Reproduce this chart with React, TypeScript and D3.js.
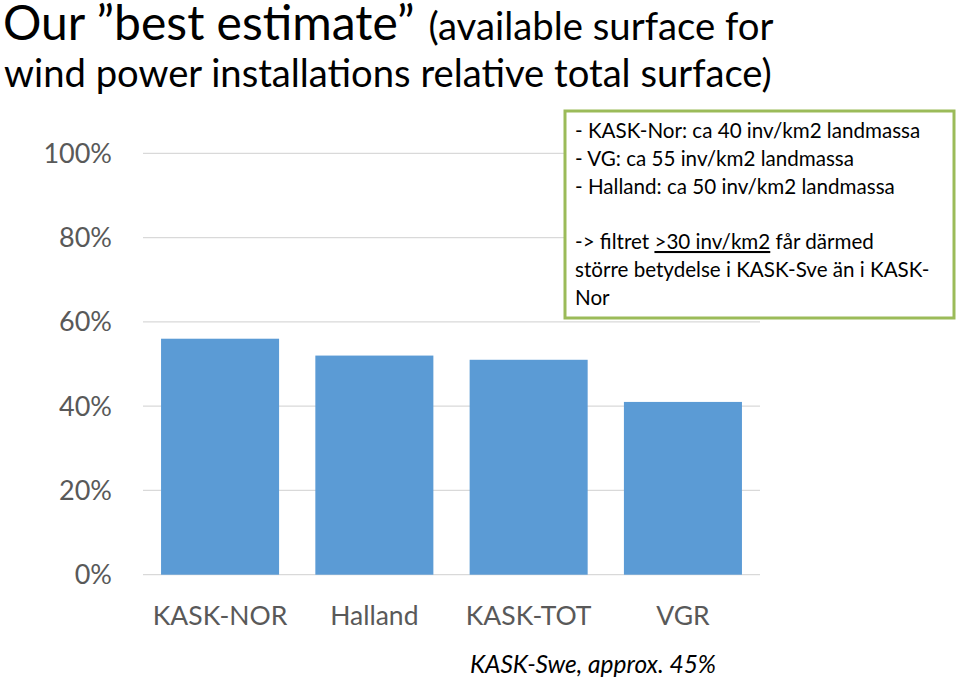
import React from "react";
import * as d3 from "d3";

const categories = ["KASK-NOR", "Halland", "KASK-TOT", "VGR"];
const values = [0.56, 0.52, 0.51, 0.41];
const yTicks = [0, 0.2, 0.4, 0.6, 0.8, 1.0];
const boxLines = [
  "- KASK-Nor: ca 40 inv/km2 landmassa",
  "- VG: ca 55 inv/km2 landmassa",
  "- Halland: ca 50 inv/km2 landmassa",
];
const footnote = "KASK-Swe, approx. 45%";

const W = 959;
const H = 681;
const FONT = "Lato, 'Open Sans', sans-serif";

export default function App() {
  const x = d3.scaleBand<string>().domain(categories).range([143, 760]).paddingInner(0.235).paddingOuter(0.117);
  const y = d3.scaleLinear().domain([0, 1]).range([574.7, 153.3]);
  const fmt = d3.format(".0%");
  return (
    <svg width={W} height={H} style={{ position: "absolute", left: 0, top: 0, background: "#fff" }} fontFamily={FONT}>
      <rect x={0} y={0} width={W} height={H} fill="#fff" />
      <text x={3} y={40} fill="#000">
        <tspan fontSize={48}>Our ”best estimate”</tspan>
        <tspan fontSize={38.3} dx={14}>(available surface for</tspan>
      </text>
      <text x={4} y={87} fontSize={38.2} fill="#000">wind power installations relative total surface)</text>
      {yTicks.map((t) => (
        <g key={t}>
          <line x1={143} x2={760} y1={y(t)} y2={y(t)} stroke="#d9d9d9" strokeWidth={1.3} />
          <text x={112} y={y(t) + 9.5} textAnchor="end" fontSize={27} fill="#595959">{fmt(t)}</text>
        </g>
      ))}
      {categories.map((c, i) => (
        <rect key={c} x={x(c)} y={y(values[i])} width={x.bandwidth()} height={y(0) - y(values[i])} fill="#5B9BD5" />
      ))}
      {categories.map((c) => (
        <text key={c} x={(x(c) as number) + x.bandwidth() / 2} y={625} textAnchor="middle" fontSize={26.5} fill="#595959">{c}</text>
      ))}
      <text x={593} y={673} textAnchor="middle" fontSize={24.5} fontStyle="italic" fill="#000">{footnote}</text>
      <rect x={565} y={111} width={389} height={207} fill="#fff" stroke="#9BBB59" strokeWidth={3} />
      <g fontSize={20.6} fill="#000">
        {boxLines.map((l, i) => (
          <text key={i} x={575} y={138 + i * 28}>{l}</text>
        ))}
        <text x={575} y={249}>
          <tspan>-&gt; filtret </tspan>
          <tspan textDecoration="underline">&gt;30 inv/km2</tspan>
          <tspan> får därmed</tspan>
        </text>
        <text x={575} y={277}>större betydelse i KASK-Sve än i KASK-</text>
        <text x={575} y={305}>Nor</text>
      </g>
    </svg>
  );
}
